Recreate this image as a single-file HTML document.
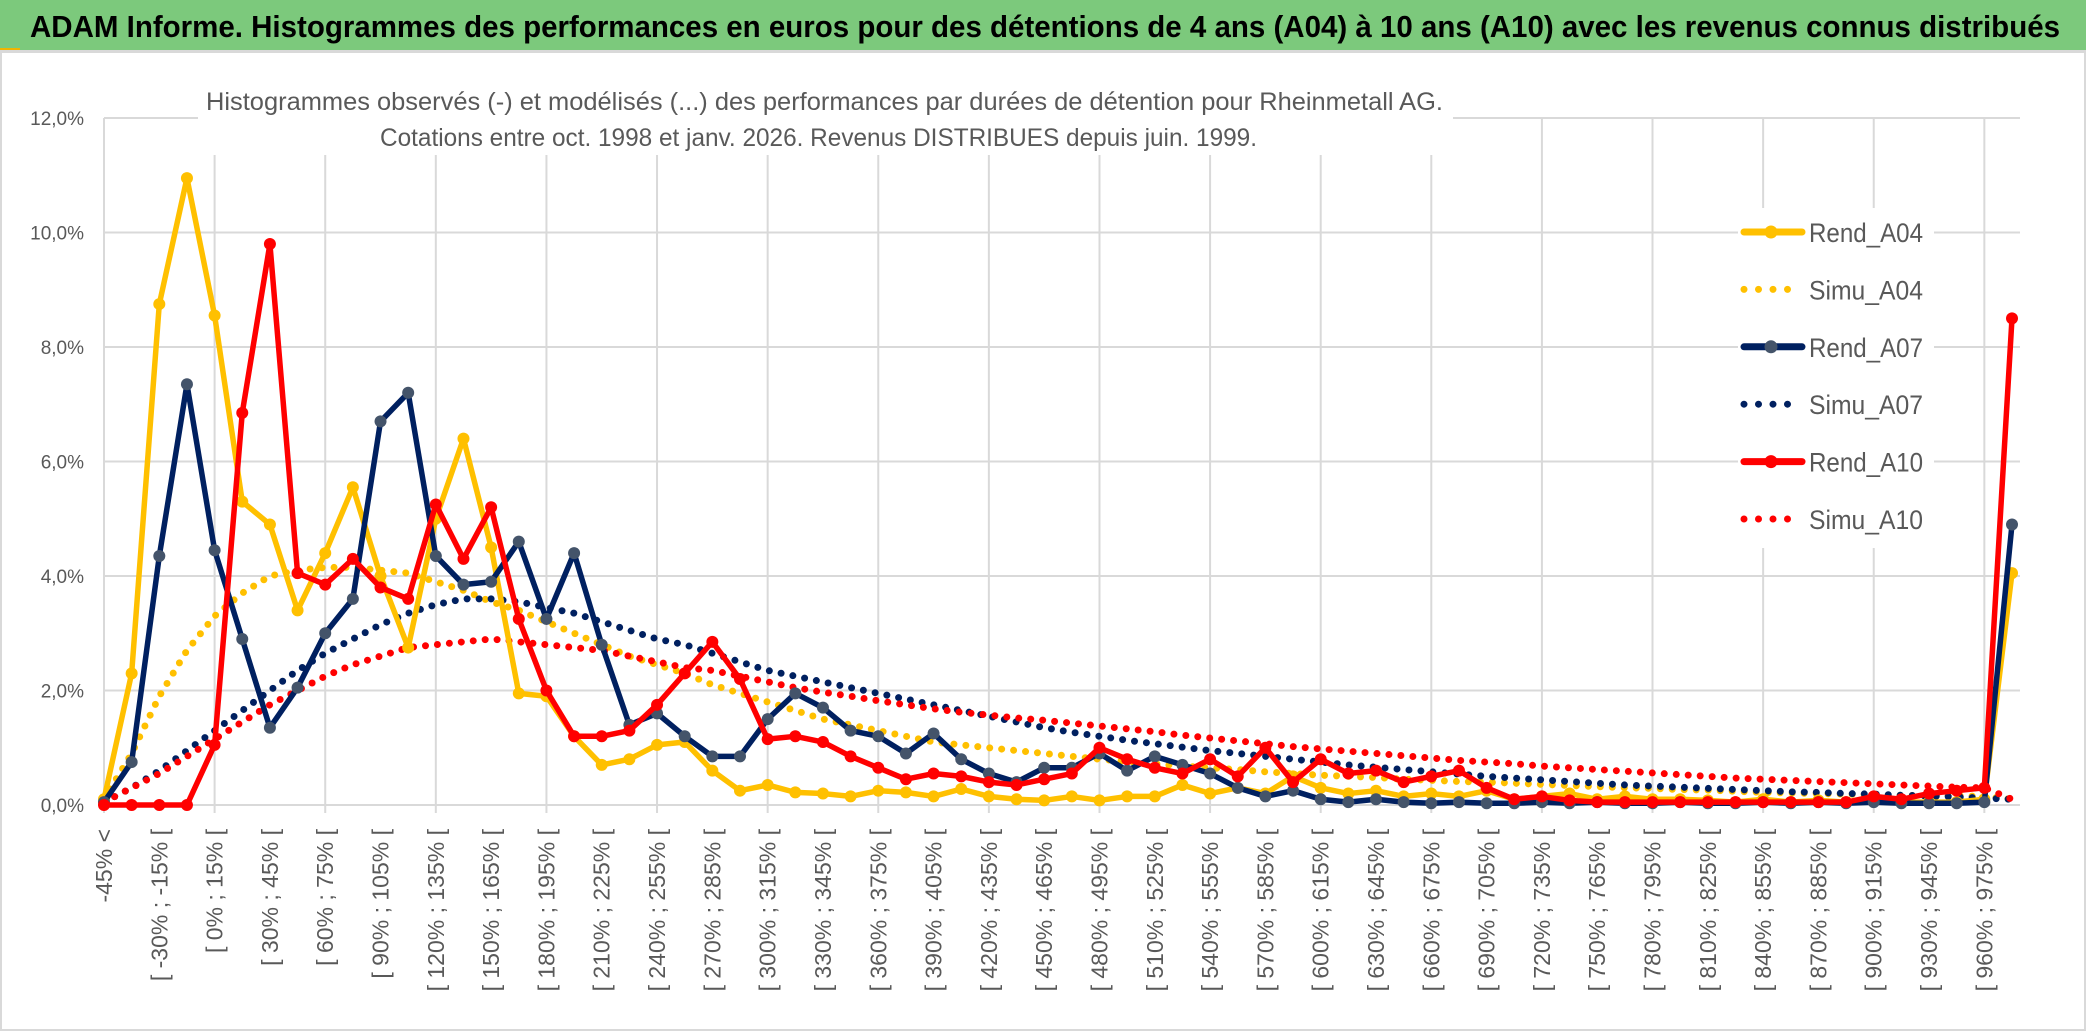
<!DOCTYPE html>
<html><head><meta charset="utf-8"><style>
html,body{margin:0;padding:0;background:#fff;}
svg{display:block;font-family:"Liberation Sans",sans-serif;}
</style></head><body>
<svg id="chart" width="2086" height="1031" viewBox="0 0 2086 1031">
<rect x="0" y="0" width="2086" height="1031" fill="#fff"/>
<rect x="0" y="0" width="2086" height="50" fill="#7CC97C"/>
<rect x="0" y="48" width="20" height="4" fill="#F0B400"/>
<line x1="0" y1="51" x2="2086" y2="51" stroke="#d9d9d9" stroke-width="2"/>
<text x="30" y="37" font-size="31" font-weight="bold" fill="#000" textLength="2030" lengthAdjust="spacingAndGlyphs">ADAM Informe. Histogrammes des performances en euros pour des détentions de 4 ans (A04) à 10 ans (A10) avec les revenus connus distribués</text>
<rect x="1" y="52" width="2084" height="978" fill="none" stroke="#d9d9d9" stroke-width="2"/>
<g id="grid"></g>
<rect x="198" y="80" width="1255" height="75" fill="#fff"/>
<rect x="1738" y="208" width="196" height="340" fill="#fff"/>
<text x="206" y="110" font-size="25" fill="#595959" textLength="1237" lengthAdjust="spacingAndGlyphs">Histogrammes observés (-) et modélisés (...) des performances par durées de détention pour Rheinmetall AG.</text>
<text x="380" y="146" font-size="25" fill="#595959" textLength="877" lengthAdjust="spacingAndGlyphs">Cotations entre oct. 1998 et janv. 2026. Revenus DISTRIBUES depuis juin. 1999.</text>
<g id="axes"></g>
<g id="series"></g>
<g id="legend"></g>
</svg>
<script>
const rendA04=[0.1,2.3,8.75,10.95,8.55,5.3,4.9,3.4,4.4,5.55,4.0,2.75,5.0,6.4,4.5,1.95,1.9,1.2,0.7,0.8,1.05,1.1,0.6,0.25,0.35,0.22,0.2,0.15,0.25,0.22,0.15,0.28,0.15,0.1,0.08,0.15,0.08,0.15,0.15,0.35,0.2,0.3,0.2,0.5,0.3,0.2,0.25,0.15,0.2,0.15,0.25,0.1,0.15,0.2,0.1,0.15,0.1,0.1,0.08,0.05,0.1,0.05,0.08,0.05,0.1,0.05,0.05,0.05,0.1,4.05];
const simuA04=[0.1,0.9,1.9,2.7,3.3,3.7,4.0,4.1,4.15,4.15,4.1,4.05,3.9,3.75,3.55,3.4,3.2,3.0,2.8,2.6,2.45,2.3,2.1,1.95,1.8,1.65,1.5,1.4,1.3,1.2,1.1,1.05,1.0,0.95,0.9,0.85,0.8,0.76,0.72,0.68,0.65,0.62,0.58,0.55,0.52,0.5,0.48,0.45,0.43,0.41,0.4,0.38,0.36,0.34,0.32,0.3,0.29,0.27,0.26,0.24,0.22,0.21,0.2,0.19,0.18,0.17,0.16,0.16,0.15,0.1];
const rendA07=[0.05,0.75,4.35,7.35,4.45,2.9,1.35,2.05,3.0,3.6,6.7,7.2,4.35,3.85,3.9,4.6,3.25,4.4,2.8,1.4,1.6,1.2,0.85,0.85,1.5,1.95,1.7,1.3,1.2,0.9,1.25,0.8,0.55,0.4,0.65,0.65,0.9,0.6,0.85,0.7,0.55,0.3,0.15,0.25,0.1,0.05,0.1,0.05,0.03,0.05,0.03,0.03,0.05,0.03,0.05,0.03,0.03,0.05,0.03,0.03,0.05,0.03,0.05,0.03,0.05,0.03,0.03,0.03,0.05,4.9];
const simuA07=[0.05,0.3,0.6,0.95,1.3,1.65,2.0,2.35,2.65,2.9,3.15,3.35,3.5,3.6,3.6,3.55,3.45,3.35,3.2,3.05,2.9,2.8,2.65,2.5,2.35,2.25,2.15,2.05,1.95,1.85,1.75,1.65,1.55,1.45,1.35,1.27,1.2,1.13,1.07,1.01,0.95,0.9,0.85,0.8,0.75,0.7,0.66,0.62,0.58,0.54,0.5,0.47,0.44,0.41,0.38,0.35,0.33,0.31,0.29,0.27,0.25,0.23,0.22,0.2,0.19,0.17,0.16,0.14,0.12,0.1];
const rendA10=[0,0,0,0,1.05,6.85,9.8,4.05,3.85,4.3,3.8,3.6,5.25,4.3,5.2,3.25,2.0,1.2,1.2,1.3,1.75,2.3,2.85,2.2,1.15,1.2,1.1,0.85,0.65,0.45,0.55,0.5,0.4,0.35,0.45,0.55,1.0,0.8,0.65,0.55,0.8,0.5,1.0,0.4,0.8,0.55,0.6,0.4,0.5,0.6,0.3,0.1,0.15,0.08,0.05,0.05,0.05,0.05,0.05,0.05,0.05,0.05,0.05,0.05,0.15,0.1,0.2,0.25,0.3,8.5];
const simuA10=[0.05,0.3,0.55,0.85,1.15,1.45,1.75,2.0,2.25,2.45,2.6,2.75,2.8,2.85,2.9,2.85,2.8,2.75,2.7,2.6,2.5,2.4,2.35,2.25,2.15,2.05,1.97,1.9,1.82,1.75,1.68,1.62,1.57,1.52,1.48,1.43,1.38,1.33,1.28,1.22,1.17,1.12,1.07,1.02,0.98,0.94,0.9,0.86,0.82,0.78,0.75,0.72,0.68,0.65,0.62,0.59,0.56,0.53,0.5,0.47,0.45,0.43,0.41,0.39,0.37,0.35,0.33,0.31,0.3,0.1];
const yTicks=[0,2,4,6,8,10,12];
const NS="http://www.w3.org/2000/svg";
const X0=104,X1=2012,Y0=805,Y12=118;
const N=rendA04.length;
function xs(i){return X0+(X1-X0)*i/(N-1);}
function ys(v){return Y0-(Y0-Y12)*v/12;}
function mk(tag,attrs,parent){const e=document.createElementNS(NS,tag);for(const k in attrs)e.setAttribute(k,attrs[k]);parent.appendChild(e);return e;}
function catLabel(i){
  if(i===0)return "-45% <";
  if(i===N-1)return "975% <";
  const lo=-45+(i-1)*15;return "[ "+lo+"% ; "+(lo+15)+"% [";
}
const categories=[];for(let i=0;i<N;i++)categories.push(catLabel(i));
const grid=document.getElementById('grid');
yTicks.forEach(t=>{
  const l=mk('line',{x1:X0,x2:X1+8,y1:ys(t),y2:ys(t),stroke:'#d9d9d9','stroke-width':2},grid);
  
  
});
for(let i=0;i<N;i+=4){
  const l=mk('line',{x1:xs(i),x2:xs(i),y1:Y12,y2:Y0+8,stroke:'#d9d9d9','stroke-width':2},grid);
  
  
}
const axes=document.getElementById('axes');
yTicks.forEach(t=>{
  const tx=mk('text',{x:84,y:ys(t)+7,'font-size':19,fill:'#595959','text-anchor':'end'},axes);
  tx.textContent=t.toFixed(1).replace('.',',')+'%';
  
  
});
for(let i=0;i<N;i+=2){
  const x=xs(i)+8,y=829;
  const tx=mk('text',{x:x,y:y,'font-size':23,fill:'#595959','text-anchor':'end',transform:'rotate(-90 '+x+' '+y+')'},axes);
  tx.textContent=categories[i];
  
  
}
const seriesG=document.getElementById('series');
function drawSim(data,color,name){
  const pts=data.map((v,i)=>xs(i)+','+ys(v)).join(' ');
  const p=mk('polyline',{points:pts,fill:'none',stroke:color,'stroke-width':7,'stroke-linecap':'round','stroke-dasharray':'0 12'},seriesG);
  
  
}
function drawRend(data,color,mcolor,name){
  const g=mk('g',{},seriesG);
  
  
  const pts=data.map((v,i)=>xs(i)+','+ys(v)).join(' ');
  mk('polyline',{points:pts,fill:'none',stroke:color,'stroke-width':5.5,'stroke-linejoin':'round'},g);
  data.forEach((v,i)=>{
    const c=mk('circle',{cx:xs(i),cy:ys(v),r:6,fill:mcolor},g);
    
    
  });
}
drawSim(simuA04,'#FFC000','simu-a04-line');
drawSim(simuA07,'#002060','simu-a07-line');
drawSim(simuA10,'#FF0000','simu-a10-line');
drawRend(rendA04,'#FFC000','#FFC000','rend-a04-line');
drawRend(rendA07,'#002060','#44546A','rend-a07-line');
drawRend(rendA10,'#FF0000','#FF0000','rend-a10-line');
const legend=document.getElementById('legend');
const legendItems=[['Rend_A04','#FFC000','#FFC000',false],['Simu_A04','#FFC000','#FFC000',true],['Rend_A07','#002060','#44546A',false],['Simu_A07','#002060','#002060',true],['Rend_A10','#FF0000','#FF0000',false],['Simu_A10','#FF0000','#FF0000',true]];
legendItems.forEach((it,k)=>{
  const y=232+k*57.4;
  const g=mk('g',{},legend);
  
  
  if(it[3]){mk('line',{x1:1744,x2:1800,y1:y,y2:y,stroke:it[1],'stroke-width':7,'stroke-linecap':'round','stroke-dasharray':'0 14.5'},g);}
  else{mk('line',{x1:1744,x2:1802,y1:y,y2:y,stroke:it[1],'stroke-width':7,'stroke-linecap':'round'},g);mk('circle',{cx:1771,cy:y,r:6.5,fill:it[2]},g);}
  const t=mk('text',{x:1809,y:y+10,'font-size':27,fill:'#595959',textLength:114,lengthAdjust:'spacingAndGlyphs'},g);
  t.textContent=it[0];
});
</script>
</body></html>
